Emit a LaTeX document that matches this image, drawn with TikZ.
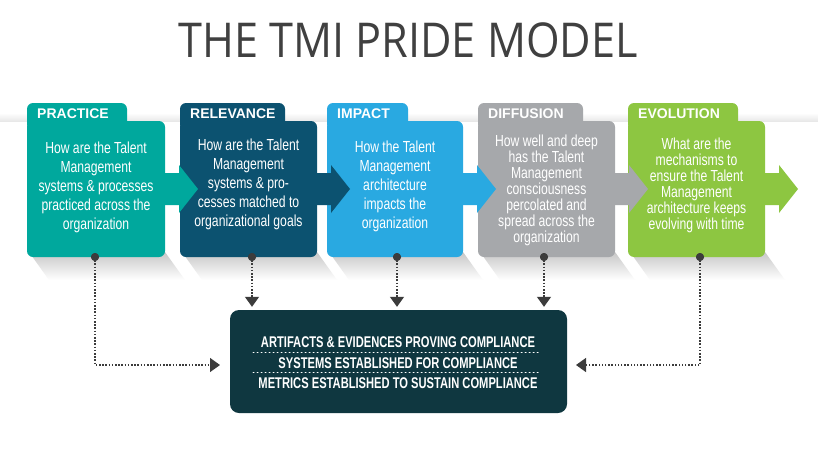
\documentclass[tikz,border=0pt]{standalone}
\usepackage{fontspec}
\usetikzlibrary{arrows.meta}
\newfontfamily\titlefont[FakeStretch=0.9]{Open Sans}
\newfontfamily\bodyfont[FakeStretch=0.76]{Liberation Sans}
\newfontfamily\labfont{Liberation Sans}
\newfontfamily\condfont[FakeStretch=0.72]{Liberation Sans}
\definecolor{cPractice}{HTML}{00A89D}
\definecolor{cRelevance}{HTML}{0C5270}
\definecolor{cImpact}{HTML}{29A9E1}
\definecolor{cDiffusion}{HTML}{A6A8AB}
\definecolor{cEvolution}{HTML}{8DC641}
\definecolor{cBottom}{HTML}{0F3740}
\definecolor{cDot}{HTML}{3C3C3C}
\definecolor{cTitle}{HTML}{404040}
\tikzset{
  bodybox/.style={rounded corners=6pt, inner sep=0pt, minimum height=136pt},
  tablabel/.style={text=white, inner sep=0pt, font=\labfont\bfseries\fontsize{14}{14}\selectfont},
  bodytext/.style={text=white, inner sep=0pt, align=center},
  dotnode/.style={circle, fill=cDot, inner sep=0pt, minimum size=8pt},
  conn/.style={cDot, line width=1.3pt, dash pattern=on 1.5pt off 1.7pt,
    -{Triangle[width=14pt,length=10pt]}},
  comptext/.style={text=white, inner sep=0pt, font=\condfont\bfseries\fontsize{15.5}{15.5}\selectfont},
  sep/.style={white, line width=1pt, dash pattern=on 1pt off 3pt, line cap=round},
}
% #1 name, #2 colour, #3 left, #4 right, #5 tab right, #6 label, #7 text y, #8 line skip, #9 text
\newcommand\stagebox[9]{%
  \shade[top color=black!22, bottom color=white] (#3+2,252) -- (#4,252) -- (#4+20,280) -- (#3+22,280) -- cycle;
  \node[bodybox, fill=#2, minimum width={(#4-#3)*1pt}] (#1) at ({(#3+#4)/2},189) {};
  \fill[#2, rounded corners=6pt] (#3,103) rectangle (#5,130);
  \node[tablabel, anchor=base west] (#1-lab) at (#3+10,118) {#6};
  \node[bodytext, font=\bodyfont\fontsize{16}{#8}\selectfont] (#1-txt) at ({(#3+#4)/2},#7) {#9};
}
\newcommand\stagearrow[2]{%
  \fill[#1] (#2-1,173) -- (#2+14,173) -- (#2+14,165) -- (#2+33,189) -- (#2+14,213) -- (#2+14,205) -- (#2-1,205) -- cycle;
}
\begin{document}
\begin{tikzpicture}[x=1pt,y=-1pt]
\useasboundingbox (0,0) rectangle (818,471);
\fill[white] (0,0) rectangle (818,471);
% faint band behind the boxes
\shade[top color=white, bottom color=black!9] (0,113) rectangle (818,121);
% title
\node[anchor=base, text=cTitle, inner sep=0pt, font=\titlefont\fontsize{48}{48}\selectfont] (title) at (408,57) {THE TMI PRIDE MODEL};
% stages
\stagebox{practice}{cPractice}{27}{165}{127}{PRACTICE}{187}{19}{How are the Talent\\Management\\systems \& processes\\practiced across the\\organization}
\stagebox{relevance}{cRelevance}{180}{317}{285}{RELEVANCE}{184}{19}{How are the Talent\\Management\\systems \& pro-\\cesses matched to\\organizational goals}
\stagebox{impact}{cImpact}{327}{463}{408}{IMPACT}{186}{19}{How the Talent\\Management\\architecture\\impacts the\\organization}
\stagebox{diffusion}{cDiffusion}{478}{615}{583}{DIFFUSION}{190}{16}{How well and deep\\has the Talent\\Management\\consciousness\\percolated and\\spread across the\\organization}
\stagebox{evolution}{cEvolution}{628}{765}{738}{EVOLUTION}{185}{16}{What are the\\mechanisms to\\ensure the Talent\\Management\\architecture keeps\\evolving with time}
\stagearrow{cPractice}{165}
\stagearrow{cRelevance}{317}
\stagearrow{cImpact}{463}
\stagearrow{cDiffusion}{615}
\stagearrow{cEvolution}{765}
% compliance box
\node[fill=cBottom, rounded corners=9pt, inner sep=0pt, minimum width=337pt, minimum height=103pt] (comp) at (398.5,361.5) {};
\node[comptext] (c1) at (398,342) {ARTIFACTS \& EVIDENCES PROVING COMPLIANCE};
\node[comptext] (c2) at (398,363) {SYSTEMS ESTABLISHED FOR COMPLIANCE};
\node[comptext] (c3) at (398,383) {METRICS ESTABLISHED TO SUSTAIN COMPLIANCE};
\draw[sep] (253,352) -- (538,352);
\draw[sep] (253,372) -- (538,372);
% dots
\node[dotnode] (pd) at (95,257) {};
\node[dotnode] (rd) at (252,257) {};
\node[dotnode] (id) at (397,257) {};
\node[dotnode] (dd) at (544,257) {};
\node[dotnode] (ed) at (700,257) {};
\coordinate (lin) at (220,365);
\coordinate (rin) at (576,365);
% connectors
\draw[conn] (pd.center) |- (lin);
\draw[conn] (ed.center) |- (rin);
\draw[conn, shorten >=3pt] (rd.center) -- (rd.center |- comp.north);
\draw[conn, shorten >=3pt] (id.center) -- (id.center |- comp.north);
\draw[conn, shorten >=3pt] (dd.center) -- (dd.center |- comp.north);
\foreach \d in {pd,rd,id,dd,ed} \node[dotnode] at (\d) {};
\end{tikzpicture}
\end{document}
